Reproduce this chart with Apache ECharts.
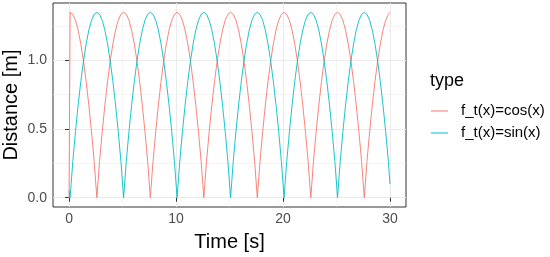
<!DOCTYPE html>
<html>
<head>
<meta charset="utf-8">
<script src="https://cdn.jsdelivr.net/npm/echarts@6/dist/echarts.min.js"></script>
<style>html,body{margin:0;padding:0;background:#fff}#c{width:550px;height:257px}</style>
</head>
<body>
<div id="c"></div>
<script>
const seriesNames = ['f_t(x)=cos(x)', 'f_t(x)=sin(x)'];
const time = [0,
 0.1,0.35,0.6,0.85,1.1,1.35,1.6,1.85,2.1,2.35,2.6,2.85,3.1,3.35,3.6,3.85,4.1,4.35,4.6,4.85,
 5.1,5.35,5.6,5.85,6.1,6.35,6.6,6.85,7.1,7.35,7.6,7.85,8.1,8.35,8.6,8.85,9.1,9.35,9.6,9.85,
 10.1,10.35,10.6,10.85,11.1,11.35,11.6,11.85,12.1,12.35,12.6,12.85,13.1,13.35,13.6,13.85,14.1,14.35,14.6,14.85,
 15.1,15.35,15.6,15.85,16.1,16.35,16.6,16.85,17.1,17.35,17.6,17.85,18.1,18.35,18.6,18.85,19.1,19.35,19.6,19.85,
 20.1,20.35,20.6,20.85,21.1,21.35,21.6,21.85,22.1,22.35,22.6,22.85,23.1,23.35,23.6,23.85,24.1,24.35,24.6,24.85,
 25.1,25.35,25.6,25.85,26.1,26.35,26.6,26.85,27.1,27.35,27.6,27.85,28.1,28.35,28.6,28.85,29.1,29.35,29.6,29.85,
 30];
const cosDist = [0,
 1.35,1.335,1.292,1.22,1.12,0.995,0.846,0.674,0.48,0.264,0,0.264,0.48,0.674,0.846,0.995,1.12,1.22,1.292,1.335,
 1.35,1.335,1.292,1.22,1.12,0.995,0.846,0.674,0.48,0.264,0,0.264,0.48,0.674,0.846,0.995,1.12,1.22,1.292,1.335,
 1.35,1.335,1.292,1.22,1.12,0.995,0.846,0.674,0.48,0.264,0,0.264,0.48,0.674,0.846,0.995,1.12,1.22,1.292,1.335,
 1.35,1.335,1.292,1.22,1.12,0.995,0.846,0.674,0.48,0.264,0,0.264,0.48,0.674,0.846,0.995,1.12,1.22,1.292,1.335,
 1.35,1.335,1.292,1.22,1.12,0.995,0.846,0.674,0.48,0.264,0,0.264,0.48,0.674,0.846,0.995,1.12,1.22,1.292,1.335,
 1.35,1.335,1.292,1.22,1.12,0.995,0.846,0.674,0.48,0.264,0,0.264,0.48,0.674,0.846,0.995,1.12,1.22,1.292,1.335,
 1.35];
const sinDist = [0.05,
 0,0.264,0.48,0.674,0.846,0.995,1.12,1.22,1.292,1.335,1.35,1.335,1.292,1.22,1.12,0.995,0.846,0.674,0.48,0.264,
 0,0.264,0.48,0.674,0.846,0.995,1.12,1.22,1.292,1.335,1.35,1.335,1.292,1.22,1.12,0.995,0.846,0.674,0.48,0.264,
 0,0.264,0.48,0.674,0.846,0.995,1.12,1.22,1.292,1.335,1.35,1.335,1.292,1.22,1.12,0.995,0.846,0.674,0.48,0.264,
 0,0.264,0.48,0.674,0.846,0.995,1.12,1.22,1.292,1.335,1.35,1.335,1.292,1.22,1.12,0.995,0.846,0.674,0.48,0.264,
 0,0.264,0.48,0.674,0.846,0.995,1.12,1.22,1.292,1.335,1.35,1.335,1.292,1.22,1.12,0.995,0.846,0.674,0.48,0.264,
 0,0.264,0.48,0.674,0.846,0.995,1.12,1.22,1.292,1.335,1.35,1.335,1.292,1.22,1.12,0.995,0.846,0.674,0.48,0.264,
 0.1];
const xTicks = [0, 10, 20, 30];
const xMinor = [5, 15, 25];
const yTicks = [0, 0.5, 1.0];
const yMinor = [0.25, 0.75, 1.25];

const FONT = 'Liberation Sans';
const chart = echarts.init(document.getElementById('c'), null, {renderer: 'canvas'});
const pairs = (ys) => time.map((t, i) => [t, ys[i]]);
const gridLine = {show: true, lineStyle: {color: '#ebebeb', width: 1}};
const minorLine = {show: true, lineStyle: {color: '#ebebeb', width: 0.5}};
chart.setOption({
  animation: false,
  textStyle: {fontFamily: FONT},
  title: {text: 'type', left: 430, top: 72, padding: 0,
    textStyle: {fontFamily: FONT, fontSize: 18, fontWeight: 'normal', color: '#000'}},
  legend: {orient: 'vertical', left: 431, top: 102, padding: 0, itemWidth: 17, itemHeight: 1, itemGap: 4,
    icon: 'rect',
    textStyle: {fontFamily: FONT, fontSize: 15, color: '#000', padding: [0, 0, 0, 8], lineHeight: 18},
    data: seriesNames},
  grid: {left: 53, right: 144, top: 3, bottom: 50, show: true, borderColor: '#333', borderWidth: 1,
    backgroundColor: '#fff', containLabel: false, outerBoundsMode: 'none'},
  xAxis: [
    {type: 'value', min: -1.5, max: 31.5, position: 'bottom',
     axisLine: {show: false},
     axisTick: {show: true, customValues: xTicks, length: 4, lineStyle: {color: '#333'}},
     axisLabel: {customValues: xTicks, fontSize: 14, color: '#4d4d4d', margin: 5, fontFamily: FONT},
     splitLine: gridLine,
     name: 'Time [s]', nameLocation: 'middle', nameGap: 25, nameMoveOverlap: false,
     nameTextStyle: {fontSize: 20, color: '#000', fontFamily: FONT}},
    {type: 'value', min: -1.5, max: 31.5, position: 'bottom',
     axisLine: {show: false}, axisLabel: {show: false},
     axisTick: {show: false, customValues: xMinor},
     splitLine: minorLine}
  ],
  yAxis: [
    {type: 'value', min: -0.0675, max: 1.4175,
     axisLine: {show: false},
     axisTick: {show: true, customValues: yTicks, length: 4, lineStyle: {color: '#333'}},
     axisLabel: {customValues: yTicks, fontSize: 14, color: '#4d4d4d', margin: 6, fontFamily: FONT,
       formatter: v => Number(v).toFixed(1)},
     splitLine: gridLine,
     name: 'Distance [m]', nameLocation: 'middle', nameGap: 32, nameRotate: 90, nameMoveOverlap: false,
     nameTextStyle: {fontSize: 20, color: '#000', fontFamily: FONT}},
    {type: 'value', min: -0.0675, max: 1.4175,
     axisLine: {show: false}, axisLabel: {show: false},
     axisTick: {show: false, customValues: yMinor},
     splitLine: minorLine}
  ],
  series: [
    {name: seriesNames[0], type: 'line', data: pairs(cosDist), symbol: 'none', z: 3,
     lineStyle: {color: '#F8766D', width: 0.9}, itemStyle: {color: '#F8766D'}},
    {name: seriesNames[1], type: 'line', data: pairs(sinDist), symbol: 'none', z: 3,
     lineStyle: {color: '#00BFC4', width: 0.9}, itemStyle: {color: '#00BFC4'}}
  ]
});
</script>
</body>
</html>
